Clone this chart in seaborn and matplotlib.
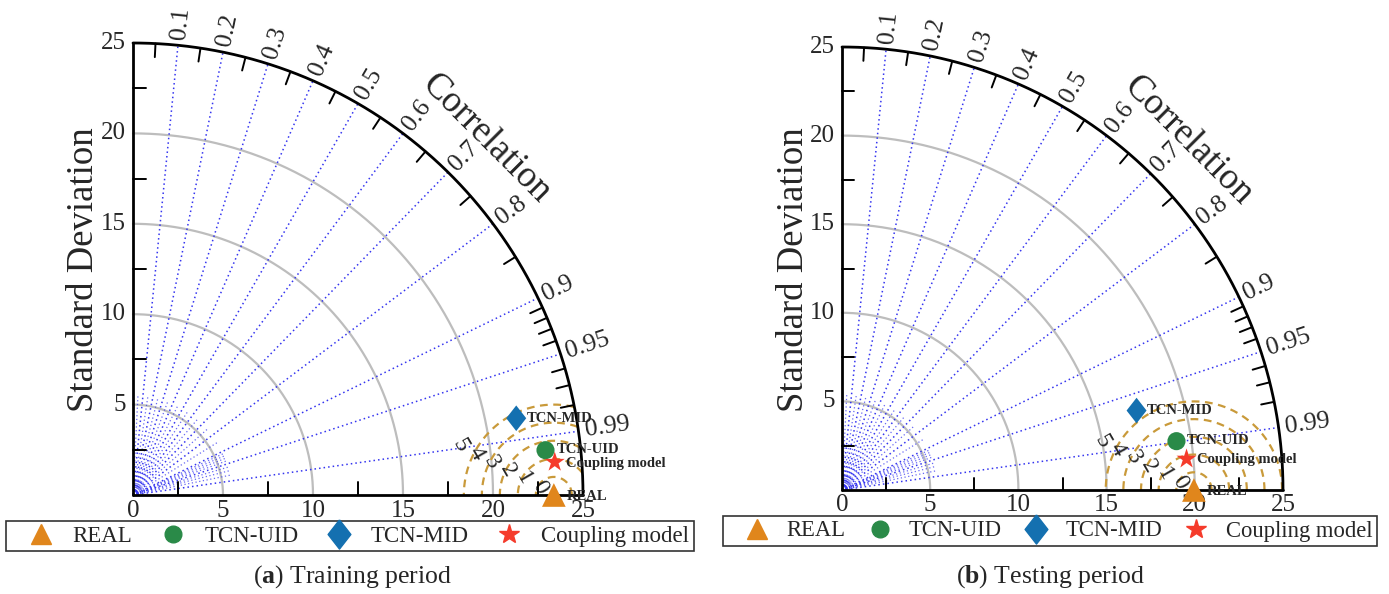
import numpy as np
import pandas as pd
import matplotlib
matplotlib.use("Agg")
import matplotlib.pyplot as plt
import seaborn as sns
from matplotlib.lines import Line2D

# ---------------- data ----------------
models = ["REAL", "TCN-UID", "TCN-MID", "Coupling model"]
train_std = [23.38, 23.05, 21.71, 23.50]
train_corr = [1.0, 0.9942, 0.9807, 0.9970]
test_std = [19.95, 19.16, 17.29, 19.61]
test_corr = [1.0, 0.9896, 0.9658, 0.9960]

std_ticks = [0, 5, 10, 15, 20, 25]
std_minor = [2.5, 7.5, 12.5, 17.5, 22.5]
std_grid = [5, 10, 15, 20]
corr_labels = [0.1, 0.2, 0.3, 0.4, 0.5, 0.6, 0.7, 0.8, 0.9, 0.95, 0.99]
corr_minor = [0.05, 0.15, 0.25, 0.35, 0.45, 0.55, 0.65, 0.75, 0.85,
              0.91, 0.92, 0.93, 0.94, 0.96, 0.97, 0.98]
rms_levels = [0, 1, 2, 3, 4, 5]
panel_tags = ["a", "b"]
captions = ["Training period", "Testing period"]

# ---------------- style ----------------
sns.set_theme(style="white")
plt.rcParams["font.family"] = ["Liberation Serif", "DejaVu Serif"]
plt.rcParams["mathtext.fontset"] = "custom"
plt.rcParams["mathtext.rm"] = "Liberation Serif"
plt.rcParams["mathtext.bf"] = "Liberation Serif:bold"

palette = {"REAL": "#E0861C", "TCN-UID": "#2A8A48", "TCN-MID": "#1470B0",
           "Coupling model": "#F53B2B"}
diamond = [(0, 1), (0.78, 0), (0, -1), (-0.78, 0), (0, 1)]
markers = {"REAL": "^", "TCN-UID": "o", "TCN-MID": diamond, "Coupling model": "*"}
sizes = {"REAL": 290, "TCN-UID": 170, "TCN-MID": 340, "Coupling model": 230}

W, H = 1389, 594
fig = plt.figure(figsize=(W / 100, H / 100), dpi=100)

# pixel geometry of each panel: origin x, origin y, width of 25 units, height of 25 units
geoms = [(133, 495, 450, 452), (842, 490, 441, 443)]
legend_centers = [(350, 536), (1050, 531)]
legend_opts = [dict(fontsize=16.5, handletextpad=0.1, columnspacing=0.45),
               dict(fontsize=16.3, handletextpad=0.0, columnspacing=0.2)]
caption_centers = [(353, 577), (1051, 577)]

RMAX = 25.0
blue = "#3535F0"
gold = "#C99A3A"


def draw_panel(ax, std, corr, tag, caption, lc, lopt, cc):
    ax.set_xlim(0, RMAX)
    ax.set_ylim(0, RMAX)
    ax.axis("off")

    # std grid arcs
    t = np.linspace(0, np.pi / 2, 300)
    for r in std_grid:
        ax.plot(r * np.cos(t), r * np.sin(t), color="#BDBDBD", lw=1.6, zorder=1, clip_on=False)

    # correlation rays
    for c in corr_labels:
        th = np.arccos(c)
        ax.plot([0, RMAX * np.cos(th)], [0, RMAX * np.sin(th)], color=blue, lw=1.1,
                ls=(0, (1, 2)), zorder=1, clip_on=False)
    for c in corr_minor:
        th = np.arccos(c)
        ax.plot([0, 5.5 * np.cos(th)], [0, 5.5 * np.sin(th)], color=blue, lw=0.9,
                ls=(0, (1, 2)), alpha=0.75, zorder=1, clip_on=False)

    # RMS circles around reference
    ref = std[0]
    tt = np.linspace(0, np.pi, 600)
    for r in rms_levels[1:]:
        x = ref + r * np.cos(tt)
        y = r * np.sin(tt)
        m = np.hypot(x, y) <= RMAX
        x = np.where(m, x, np.nan)
        y = np.where(m, y, np.nan)
        ax.plot(x, y, color=gold, lw=1.6, ls=(0, (3.5, 2.5)), zorder=2, clip_on=False)
    ang = np.deg2rad(152)
    for r in rms_levels:
        d = r + 0.9
        ax.text(ref + d * np.cos(ang), d * np.sin(ang), f"{r}", rotation=-60,
                ha="center", va="center", fontsize=17, zorder=3)

    # outer arc and axes
    ax.plot(RMAX * np.cos(t), RMAX * np.sin(t), color="black", lw=2.0, zorder=3, clip_on=False)
    ax.plot([0, RMAX], [0, 0], color="black", lw=2.0, zorder=3, clip_on=False)
    ax.plot([0, 0], [0, RMAX], color="black", lw=2.0, zorder=3, clip_on=False)

    # ticks
    for v in std_minor:
        ax.plot([v, v], [0, 0.7], color="black", lw=1.4, zorder=3, clip_on=False)
        ax.plot([0, 0.7], [v, v], color="black", lw=1.4, zorder=3, clip_on=False)
    for c in corr_minor:
        th = np.arccos(c)
        ax.plot([24.25 * np.cos(th), RMAX * np.cos(th)], [24.25 * np.sin(th), RMAX * np.sin(th)],
                color="black", lw=1.4, zorder=3, clip_on=False)

    # tick labels
    for v in std_ticks:
        ax.text(v, -0.25, f"{v}", ha="center", va="top", fontsize=18)
        if v > 0:
            ax.text(-0.4, v, f"{v}", ha="right", va="center", fontsize=18)
    for c in corr_labels:
        th = np.arccos(c)
        ax.text(25.35 * np.cos(th), 25.35 * np.sin(th), f"{c:g}", rotation=np.degrees(th),
                rotation_mode="anchor", ha="left", va="center", fontsize=18.5)

    ax.text(-2.75, 12.45, "Standard Deviation", rotation=90, ha="center", va="center",
            fontsize=26.5)
    ax.text(19.65, 19.7, "Correlation", rotation=-45, ha="center", va="center", fontsize=26.5)

    # data points
    df = pd.DataFrame({"model": models, "std": std, "corr": corr})
    df["x"] = df["std"] * df["corr"]
    df["y"] = df["std"] * np.sqrt(np.clip(1 - df["corr"] ** 2, 0, None))
    sns.scatterplot(data=df, x="x", y="y", hue="model", style="model", size="model",
                    palette=palette, markers=markers, sizes=sizes, hue_order=models,
                    style_order=models, size_order=models, linewidth=0, legend=False,
                    clip_on=False, zorder=5, ax=ax)
    offs = {"REAL": (0.7, -0.1), "TCN-UID": (0.6, 0.05), "TCN-MID": (0.6, 0.0),
            "Coupling model": (0.6, -0.05)}
    for _, row in df.iterrows():
        dx, dy = offs[row["model"]]
        ax.text(row["x"] + dx, row["y"] + dy, row["model"], ha="left", va="center",
                fontsize=10.5, fontweight="bold", zorder=6)

    # legend
    handles = [
        Line2D([], [], ls="None", marker="^", color=palette["REAL"], markersize=15),
        Line2D([], [], ls="None", marker="o", color=palette["TCN-UID"], markersize=12),
        Line2D([], [], ls="None", marker=diamond, color=palette["TCN-MID"], markersize=21),
        Line2D([], [], ls="None", marker="*", color=palette["Coupling model"], markersize=15),
    ]
    leg = fig.legend(handles, models, loc="center", ncol=4,
                     bbox_to_anchor=(lc[0] / W, 1 - lc[1] / H),
                     frameon=True, fancybox=False, edgecolor="#333333", framealpha=1,
                     borderpad=0.2, handlelength=2.6, **lopt)
    leg.get_frame().set_linewidth(1.2)

    fig.text(cc[0] / W, 1 - cc[1] / H, rf"($\mathbf{{{tag}}}$) {caption}",
             ha="center", va="center", fontsize=18.5)


datasets = [(train_std, train_corr), (test_std, test_corr)]
for i, (g, (s, c)) in enumerate(zip(geoms, datasets)):
    ox, oy, pw, ph = g
    ax = fig.add_axes([ox / W, 1 - oy / H, pw / W, ph / H])
    draw_panel(ax, s, c, panel_tags[i], captions[i], legend_centers[i], legend_opts[i],
               caption_centers[i])

fig.savefig("out.png", dpi=100)
